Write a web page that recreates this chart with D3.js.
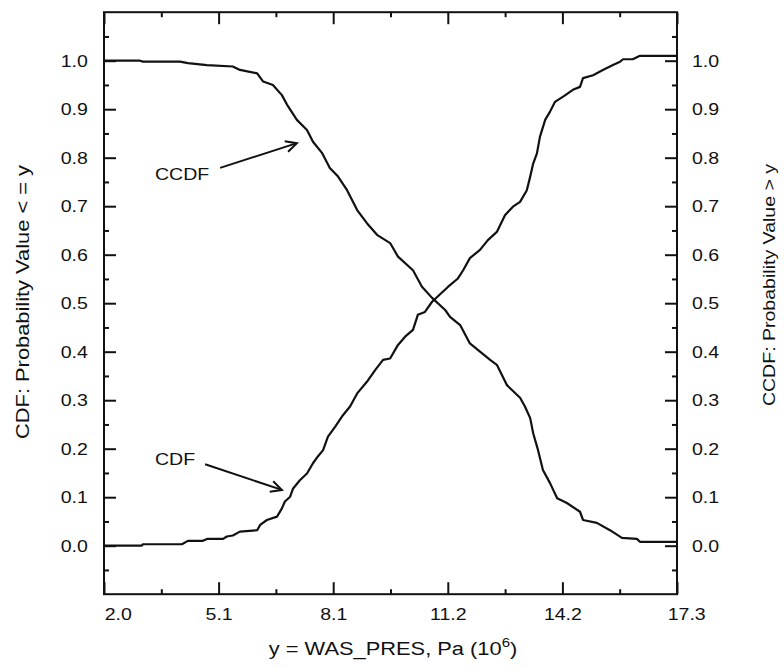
<!DOCTYPE html>
<html>
<head>
<meta charset="utf-8">
<script src="https://cdn.jsdelivr.net/npm/d3@7"></script>
<style>
  body { margin: 0; background: #fff; }
  svg text { font-family: "Liberation Sans", Arial, Helvetica, sans-serif; fill: #111; }
</style>
</head>
<body>
<svg width="784" height="668"></svg>
<script>
// values (x in Pa x 10^6, y = probability)
const cdfX = [2.0, 3.01, 3.04, 4.08, 4.24, 4.64, 4.75, 5.18, 5.28, 5.44, 5.63, 6.09, 6.17, 6.35, 6.62,
  6.75, 6.83, 6.97, 7.05, 7.23, 7.42, 7.58, 7.71, 7.85, 7.98, 8.17, 8.38, 8.57, 8.76, 9.02, 9.24,
  9.45, 9.64, 9.85, 10.04, 10.25, 10.38, 10.57, 10.76, 11.19, 11.45, 11.59, 11.77, 12.04, 12.25,
  12.49, 12.71, 12.92, 13.11, 13.29, 13.38, 13.46, 13.56, 13.64, 13.78, 13.91, 14.04, 14.26, 14.52,
  14.71, 14.79, 15.06, 15.32, 15.59, 15.78, 15.86, 16.12, 16.31, 17.3];
const cdfY = [0.0, 0.0, 0.003, 0.003, 0.010, 0.010, 0.014, 0.014, 0.019, 0.021, 0.029, 0.032, 0.043, 0.053, 0.060,
  0.077, 0.091, 0.101, 0.118, 0.135, 0.149, 0.170, 0.184, 0.197, 0.225, 0.245, 0.269, 0.287, 0.314, 0.338, 0.362,
  0.383, 0.386, 0.414, 0.431, 0.445, 0.476, 0.482, 0.503, 0.534, 0.551, 0.568, 0.593, 0.610, 0.630,
  0.647, 0.682, 0.699, 0.709, 0.733, 0.761, 0.788, 0.809, 0.843, 0.878, 0.895, 0.915, 0.926, 0.940,
  0.946, 0.964, 0.970, 0.981, 0.991, 0.998, 1.003, 1.003, 1.010, 1.010];

const ccdfX = [2.0, 2.96, 3.04, 4.03, 4.24, 4.75, 5.44, 5.63, 6.09, 6.25, 6.51, 6.75, 6.89, 7.15, 7.42,
  7.58, 7.82, 8.03, 8.25, 8.49, 8.76, 9.02, 9.29, 9.64, 9.85, 10.25, 10.49, 10.76, 11.11, 11.24,
  11.51, 11.77, 12.04, 12.31, 12.49, 12.76, 13.11, 13.24, 13.38, 13.46, 13.59, 13.72, 13.91, 14.10,
  14.36, 14.71, 14.79, 15.16, 15.51, 15.83, 16.23, 16.31, 17.3];
const ccdfY = [1.0, 1.0, 0.998, 0.998, 0.995, 0.991, 0.988, 0.981, 0.974, 0.957, 0.950, 0.929, 0.909, 0.878, 0.857,
  0.833, 0.810, 0.779, 0.761, 0.733, 0.692, 0.665, 0.641, 0.624, 0.596, 0.568, 0.534, 0.511, 0.486, 0.472,
  0.455, 0.417, 0.400, 0.383, 0.373, 0.331, 0.305, 0.287, 0.263, 0.232, 0.197, 0.156, 0.129, 0.098,
  0.088, 0.070, 0.053, 0.047, 0.032, 0.016, 0.014, 0.008, 0.008];

const xTicks = [2.0, 5.06, 8.12, 11.18, 14.24, 17.3];      // printed as 2.0 5.1 8.1 11.2 14.2 17.3
const xMinor = [3.53, 6.59, 9.65, 12.71, 15.77];
const yTicks = [0.0, 0.1, 0.2, 0.3, 0.4, 0.5, 0.6, 0.7, 0.8, 0.9, 1.0];
const yMinor = [-0.05, 0.05, 0.15, 0.25, 0.35, 0.45, 0.55, 0.65, 0.75, 0.85, 0.95, 1.05];

const curveNames = ["CDF", "CCDF"];
const xTitle = "y = WAS_PRES, Pa (10";
const leftTitle = "CDF: Probability Value < = y";
const rightTitle = "CCDF: Probability Value > y";

const svg = d3.select("svg");
const ink = "#111";
const wide = "scale(1.15,1)";   // scanned lettering is a bit wider than Arial

const x = d3.scaleLinear().domain([2.0, 17.3]).range([104, 677]);
const y = d3.scaleLinear().domain([-0.1, 1.1]).range([594.2, 12.2]);
const fmt = d3.format(".1f");

function tidy(g) {
    g.select(".domain").remove();
    g.attr("font-family", null).attr("font-size", null);
    g.selectAll(".tick line").attr("stroke", ink).attr("stroke-width", 2);
    g.selectAll(".tick text").attr("font-size", 17).attr("transform", wide);
}

// bottom
svg.append("g").attr("transform", `translate(0,${y(-0.1)})`)
    .call(d3.axisBottom(x).tickValues(xTicks).tickFormat(fmt).tickSize(-12).tickSizeOuter(0).tickPadding(14))
    .call(tidy)
    .call(g => {
        g.selectAll(".tick text").filter((d, i) => i === 0).attr("dx", 12);
        g.selectAll(".tick text").filter((d, i) => i === xTicks.length - 1).attr("dx", 8);
    });
svg.append("g").attr("transform", `translate(0,${y(-0.1)})`)
    .call(d3.axisBottom(x).tickValues(xMinor).tickFormat("").tickSize(-5).tickSizeOuter(0))
    .call(tidy);
// top
svg.append("g").attr("transform", `translate(0,${y(1.1)})`)
    .call(d3.axisTop(x).tickValues(xTicks).tickFormat("").tickSize(-12).tickSizeOuter(0))
    .call(tidy);
svg.append("g").attr("transform", `translate(0,${y(1.1)})`)
    .call(d3.axisTop(x).tickValues(xMinor).tickFormat("").tickSize(-5).tickSizeOuter(0))
    .call(tidy);
// left
svg.append("g").attr("transform", `translate(${x(2.0)},0)`)
    .call(d3.axisLeft(y).tickValues(yTicks).tickFormat(fmt).tickSize(-12).tickSizeOuter(0).tickPadding(14))
    .call(tidy);
svg.append("g").attr("transform", `translate(${x(2.0)},0)`)
    .call(d3.axisLeft(y).tickValues(yMinor).tickFormat("").tickSize(-5).tickSizeOuter(0))
    .call(tidy);
// right
svg.append("g").attr("transform", `translate(${x(17.3)},0)`)
    .call(d3.axisRight(y).tickValues(yTicks).tickFormat(fmt).tickSize(-12).tickSizeOuter(0).tickPadding(13))
    .call(tidy);
svg.append("g").attr("transform", `translate(${x(17.3)},0)`)
    .call(d3.axisRight(y).tickValues(yMinor).tickFormat("").tickSize(-5).tickSizeOuter(0))
    .call(tidy);

// frame
svg.append("rect")
    .attr("x", x(2.0)).attr("y", y(1.1))
    .attr("width", x(17.3) - x(2.0)).attr("height", y(-0.1) - y(1.1))
    .attr("fill", "none").attr("stroke", ink).attr("stroke-width", 2);

// curves
const line = d3.line().x(d => x(d[0])).y(d => y(d[1]));
[d3.zip(cdfX, cdfY), d3.zip(ccdfX, ccdfY)].forEach(pts => {
    svg.append("path").datum(pts)
        .attr("d", line)
        .attr("fill", "none").attr("stroke", ink)
        .attr("stroke-width", 2.2).attr("stroke-linejoin", "round");
});

// labels + arrows
svg.append("defs").append("marker")
    .attr("id", "head").attr("markerUnits", "userSpaceOnUse")
    .attr("viewBox", "-1 -7 14 14").attr("markerWidth", 14).attr("markerHeight", 14)
    .attr("refX", 11).attr("refY", 0).attr("orient", "auto")
    .append("path").attr("d", "M0,-5.5L11,0L0,5.5")
    .attr("fill", "none").attr("stroke", ink).attr("stroke-width", 2);

const notes = [
    { name: curveNames[0], at: [3.36, 0.166], from: [4.70, 0.168], to: [6.75, 0.115] },
    { name: curveNames[1], at: [3.36, 0.754], from: [5.10, 0.779], to: [7.15, 0.830] }
];
notes.forEach(n => {
    svg.append("text")
        .attr("transform", `translate(${x(n.at[0])},${y(n.at[1])}) ${wide}`)
        .attr("font-size", 17).text(n.name);
    svg.append("line")
        .attr("x1", x(n.from[0])).attr("y1", y(n.from[1]))
        .attr("x2", x(n.to[0])).attr("y2", y(n.to[1]))
        .attr("stroke", ink).attr("stroke-width", 2)
        .attr("marker-end", "url(#head)");
});

// axis titles
const xt = svg.append("text")
    .attr("transform", `translate(393,655) ${wide}`)
    .attr("text-anchor", "middle").attr("font-size", 19);
xt.append("tspan").text(xTitle);
xt.append("tspan").attr("font-size", 13).attr("dy", -8).text("6");
xt.append("tspan").attr("dy", 8).text(")");

svg.append("text")
    .attr("transform", `translate(29,302) rotate(-90) ${wide}`)
    .attr("text-anchor", "middle").attr("font-size", 19).text(leftTitle);

svg.append("text")
    .attr("transform", `translate(775,285) rotate(-90) ${wide}`)
    .attr("text-anchor", "middle").attr("font-size", 17).text(rightTitle);
</script>
</body>
</html>
